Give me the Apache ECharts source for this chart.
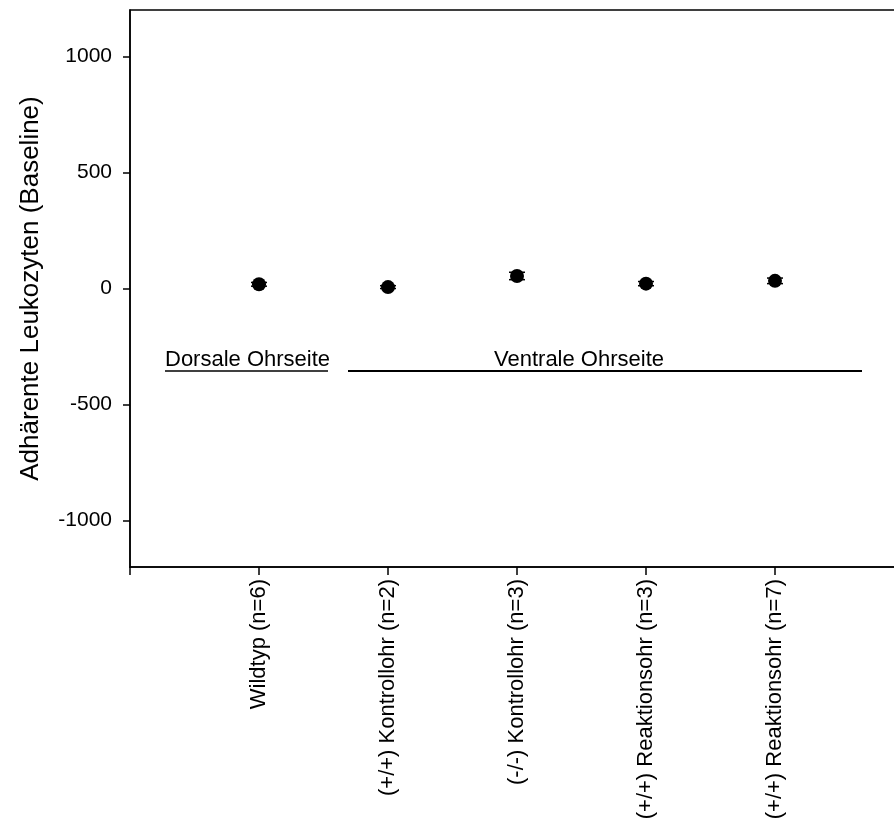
<!DOCTYPE html>
<html>
<head>
<meta charset="utf-8">
<script src="https://cdn.jsdelivr.net/npm/echarts@6/dist/echarts.min.js"></script>
<style>
  html, body { margin: 0; padding: 0; background: #fff; }
  #chart { width: 894px; height: 822px; }
</style>
</head>
<body>
<div id="chart"></div>
<script>
// Groups along the x axis (placed at positions 1..5)
const categories = [
  'Wildtyp (n=6)',
  '(+/+) Kontrollohr (n=2)',
  '(-/-) Kontrollohr (n=3)',
  '(+/+) Reaktionsohr (n=3)',
  '(+/+) Reaktionsohr (n=7)'
];
// Mean adherent leukocytes and their error (SEM)
const means = [18, 6, 54, 21, 33];
const errors = [8, 6, 16, 9, 12];
// Y axis tick values
const yTicks = [-1000, -500, 0, 500, 1000];

const FONT = 'Liberation Sans, Arial, sans-serif';

const points = categories.map((c, i) => [i + 1, means[i]]);
const bars = categories.map((c, i) => [i + 1, means[i], errors[i]]);

const chart = echarts.init(document.getElementById('chart'), null, { renderer: 'canvas' });

chart.setOption({
  backgroundColor: '#fff',
  animation: false,
  textStyle: { fontFamily: FONT },
  grid: {
    left: 130, top: 10, width: 774, height: 557,
    show: true, borderColor: '#000', borderWidth: 1.5,
    outerBoundsMode: 'none', containLabel: false
  },
  xAxis: {
    type: 'value',
    min: 0, max: 6, interval: 1,
    splitLine: { show: false },
    axisLine: { show: true, onZero: false, lineStyle: { color: '#000', width: 1.5 } },
    axisTick: { show: true, inside: false, length: 8, lineStyle: { color: '#000', width: 1.5 } },
    axisLabel: {
      rotate: 90, margin: 12, color: '#000', fontSize: 22, fontFamily: FONT,
      formatter: v => (v >= 1 && v <= categories.length) ? categories[v - 1] : ''
    }
  },
  yAxis: {
    type: 'value',
    min: -1200, max: 1200,
    name: 'Adhärente Leukozyten (Baseline)',
    nameLocation: 'middle', nameGap: 86, nameRotate: 90,
    nameTextStyle: { color: '#000', fontSize: 26, fontFamily: FONT },
    splitLine: { show: false },
    axisLine: { show: true, onZero: false, lineStyle: { color: '#000', width: 1.5 } },
    axisTick: { show: true, length: 7, customValues: yTicks, lineStyle: { color: '#000', width: 1.5 } },
    axisLabel: {
      customValues: yTicks, margin: 18, color: '#000', fontSize: 21, fontFamily: FONT,
      formatter: v => String(v)
    }
  },
  series: [
    {
      type: 'custom',
      data: bars,
      z: 3,
      renderItem: (params, api) => {
        const x = api.value(0), y = api.value(1), e = api.value(2);
        const top = api.coord([x, y + e]);
        const bot = api.coord([x, y - e]);
        const hw = 8;
        const st = { stroke: '#000', lineWidth: 1.5 };
        return {
          type: 'group',
          children: [
            { type: 'line', shape: { x1: top[0], y1: top[1], x2: bot[0], y2: bot[1] }, style: st },
            { type: 'line', shape: { x1: top[0] - hw, y1: top[1], x2: top[0] + hw, y2: top[1] }, style: st },
            { type: 'line', shape: { x1: bot[0] - hw, y1: bot[1], x2: bot[0] + hw, y2: bot[1] }, style: st }
          ]
        };
      }
    },
    {
      type: 'scatter',
      data: points,
      symbol: 'circle',
      symbolSize: 14,
      z: 4,
      itemStyle: { color: '#000', opacity: 1 }
    }
  ],
  graphic: [
    {
      type: 'text', left: 165, top: 349,
      style: { text: 'Dorsale Ohrseite', fill: '#000', font: '22px ' + FONT }
    },
    {
      type: 'line', shape: { x1: 165, y1: 371, x2: 328, y2: 371 },
      style: { stroke: '#000', lineWidth: 1.5 }
    },
    {
      type: 'text', x: 579, y: 349,
      style: { text: 'Ventrale Ohrseite', fill: '#000', font: '22px ' + FONT, textAlign: 'center', textVerticalAlign: 'top' }
    },
    {
      type: 'line', shape: { x1: 348, y1: 371, x2: 862, y2: 371 },
      style: { stroke: '#000', lineWidth: 2 }
    }
  ]
});
</script>
</body>
</html>
